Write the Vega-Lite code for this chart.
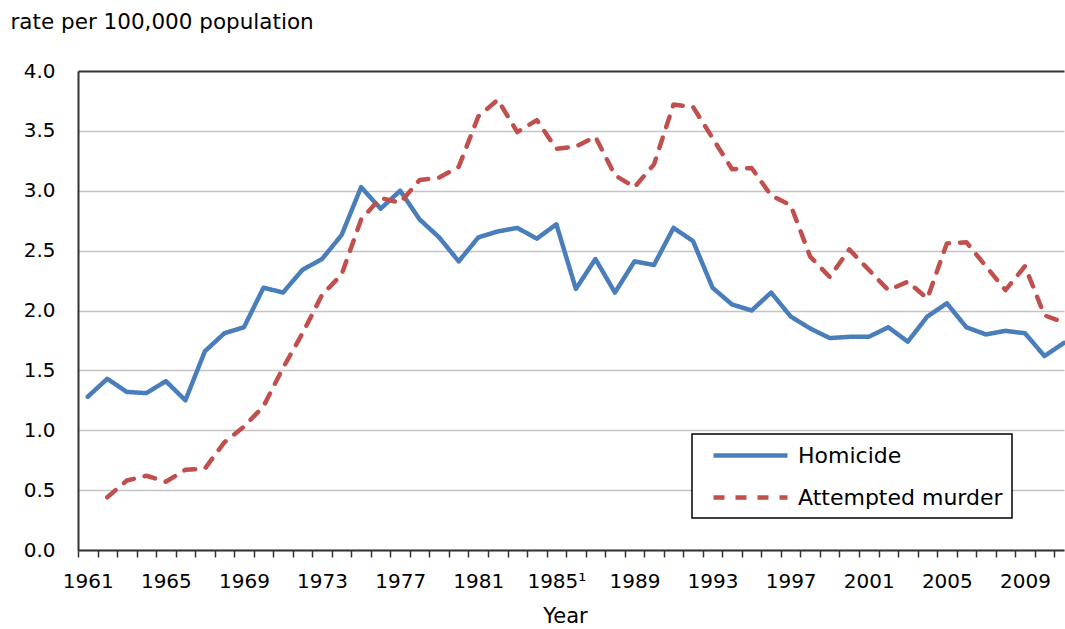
{
  "$schema": "https://vega.github.io/schema/vega-lite/v6.json",
  "width": 986,
  "height": 479,
  "autosize": {"type": "none"},
  "padding": {"left": 78, "top": 71, "right": 1, "bottom": 79},
  "background": "white",
  "config": {
    "font": "DejaVu Sans",
    "view": {"stroke": null},
    "legend": {"strokeWidth": 1.5}
  },
  "data": {
    "values": [
      {"year": 1961, "series": "Homicide", "rate": 1.28},
      {"year": 1962, "series": "Homicide", "rate": 1.43},
      {"year": 1963, "series": "Homicide", "rate": 1.32},
      {"year": 1964, "series": "Homicide", "rate": 1.31},
      {"year": 1965, "series": "Homicide", "rate": 1.41},
      {"year": 1966, "series": "Homicide", "rate": 1.25},
      {"year": 1967, "series": "Homicide", "rate": 1.66},
      {"year": 1968, "series": "Homicide", "rate": 1.81},
      {"year": 1969, "series": "Homicide", "rate": 1.86},
      {"year": 1970, "series": "Homicide", "rate": 2.19},
      {"year": 1971, "series": "Homicide", "rate": 2.15},
      {"year": 1972, "series": "Homicide", "rate": 2.34},
      {"year": 1973, "series": "Homicide", "rate": 2.43},
      {"year": 1974, "series": "Homicide", "rate": 2.63},
      {"year": 1975, "series": "Homicide", "rate": 3.03},
      {"year": 1976, "series": "Homicide", "rate": 2.85},
      {"year": 1977, "series": "Homicide", "rate": 3.00},
      {"year": 1978, "series": "Homicide", "rate": 2.76},
      {"year": 1979, "series": "Homicide", "rate": 2.61},
      {"year": 1980, "series": "Homicide", "rate": 2.41},
      {"year": 1981, "series": "Homicide", "rate": 2.61},
      {"year": 1982, "series": "Homicide", "rate": 2.66},
      {"year": 1983, "series": "Homicide", "rate": 2.69},
      {"year": 1984, "series": "Homicide", "rate": 2.60},
      {"year": 1985, "series": "Homicide", "rate": 2.72},
      {"year": 1986, "series": "Homicide", "rate": 2.18},
      {"year": 1987, "series": "Homicide", "rate": 2.43},
      {"year": 1988, "series": "Homicide", "rate": 2.15},
      {"year": 1989, "series": "Homicide", "rate": 2.41},
      {"year": 1990, "series": "Homicide", "rate": 2.38},
      {"year": 1991, "series": "Homicide", "rate": 2.69},
      {"year": 1992, "series": "Homicide", "rate": 2.58},
      {"year": 1993, "series": "Homicide", "rate": 2.19},
      {"year": 1994, "series": "Homicide", "rate": 2.05},
      {"year": 1995, "series": "Homicide", "rate": 2.00},
      {"year": 1996, "series": "Homicide", "rate": 2.15},
      {"year": 1997, "series": "Homicide", "rate": 1.95},
      {"year": 1998, "series": "Homicide", "rate": 1.85},
      {"year": 1999, "series": "Homicide", "rate": 1.77},
      {"year": 2000, "series": "Homicide", "rate": 1.78},
      {"year": 2001, "series": "Homicide", "rate": 1.78},
      {"year": 2002, "series": "Homicide", "rate": 1.86},
      {"year": 2003, "series": "Homicide", "rate": 1.74},
      {"year": 2004, "series": "Homicide", "rate": 1.95},
      {"year": 2005, "series": "Homicide", "rate": 2.06},
      {"year": 2006, "series": "Homicide", "rate": 1.86},
      {"year": 2007, "series": "Homicide", "rate": 1.80},
      {"year": 2008, "series": "Homicide", "rate": 1.83},
      {"year": 2009, "series": "Homicide", "rate": 1.81},
      {"year": 2010, "series": "Homicide", "rate": 1.62},
      {"year": 2011, "series": "Homicide", "rate": 1.73},
      {"year": 1962, "series": "Attempted murder", "rate": 0.44},
      {"year": 1963, "series": "Attempted murder", "rate": 0.58},
      {"year": 1964, "series": "Attempted murder", "rate": 0.62},
      {"year": 1965, "series": "Attempted murder", "rate": 0.57},
      {"year": 1966, "series": "Attempted murder", "rate": 0.67},
      {"year": 1967, "series": "Attempted murder", "rate": 0.68},
      {"year": 1968, "series": "Attempted murder", "rate": 0.90},
      {"year": 1969, "series": "Attempted murder", "rate": 1.03},
      {"year": 1970, "series": "Attempted murder", "rate": 1.20},
      {"year": 1971, "series": "Attempted murder", "rate": 1.52},
      {"year": 1972, "series": "Attempted murder", "rate": 1.81},
      {"year": 1973, "series": "Attempted murder", "rate": 2.13},
      {"year": 1974, "series": "Attempted murder", "rate": 2.30},
      {"year": 1975, "series": "Attempted murder", "rate": 2.76},
      {"year": 1976, "series": "Attempted murder", "rate": 2.94},
      {"year": 1977, "series": "Attempted murder", "rate": 2.90},
      {"year": 1978, "series": "Attempted murder", "rate": 3.09},
      {"year": 1979, "series": "Attempted murder", "rate": 3.11},
      {"year": 1980, "series": "Attempted murder", "rate": 3.20},
      {"year": 1981, "series": "Attempted murder", "rate": 3.62},
      {"year": 1982, "series": "Attempted murder", "rate": 3.76},
      {"year": 1983, "series": "Attempted murder", "rate": 3.49},
      {"year": 1984, "series": "Attempted murder", "rate": 3.59},
      {"year": 1985, "series": "Attempted murder", "rate": 3.35},
      {"year": 1986, "series": "Attempted murder", "rate": 3.37},
      {"year": 1987, "series": "Attempted murder", "rate": 3.45},
      {"year": 1988, "series": "Attempted murder", "rate": 3.13},
      {"year": 1989, "series": "Attempted murder", "rate": 3.03},
      {"year": 1990, "series": "Attempted murder", "rate": 3.22},
      {"year": 1991, "series": "Attempted murder", "rate": 3.72},
      {"year": 1992, "series": "Attempted murder", "rate": 3.70},
      {"year": 1993, "series": "Attempted murder", "rate": 3.44},
      {"year": 1994, "series": "Attempted murder", "rate": 3.18},
      {"year": 1995, "series": "Attempted murder", "rate": 3.19},
      {"year": 1996, "series": "Attempted murder", "rate": 2.96},
      {"year": 1997, "series": "Attempted murder", "rate": 2.88},
      {"year": 1998, "series": "Attempted murder", "rate": 2.45},
      {"year": 1999, "series": "Attempted murder", "rate": 2.28},
      {"year": 2000, "series": "Attempted murder", "rate": 2.51},
      {"year": 2001, "series": "Attempted murder", "rate": 2.34},
      {"year": 2002, "series": "Attempted murder", "rate": 2.17},
      {"year": 2003, "series": "Attempted murder", "rate": 2.24},
      {"year": 2004, "series": "Attempted murder", "rate": 2.10},
      {"year": 2005, "series": "Attempted murder", "rate": 2.56},
      {"year": 2006, "series": "Attempted murder", "rate": 2.57},
      {"year": 2007, "series": "Attempted murder", "rate": 2.37},
      {"year": 2008, "series": "Attempted murder", "rate": 2.17},
      {"year": 2009, "series": "Attempted murder", "rate": 2.37},
      {"year": 2010, "series": "Attempted murder", "rate": 1.96},
      {"year": 2011, "series": "Attempted murder", "rate": 1.90}
    ]
  },
  "mark": {"type": "line", "strokeWidth": 4.5, "strokeCap": "round", "strokeJoin": "round"},
  "encoding": {
    "x": {
      "field": "year",
      "type": "quantitative",
      "scale": {"domain": [1960.5, 2011], "nice": false, "zero": false},
      "axis": {
        "title": "Year",
        "titleFont": "DejaVu Sans",
        "titleFontSize": 21,
        "titleFontWeight": "normal",
        "titleColor": "#000",
        "titleX": 487,
        "titleY": 72,
        "titleAlign": "center",
        "titleBaseline": "alphabetic",
        "tickCount": 200,
        "tickMinStep": 0.1,
        "values": [1960.5, 1961, 1961.5, 1962.5, 1963.5, 1964.5, 1965, 1965.5, 1966.5, 1967.5, 1968.5, 1969, 1969.5, 1970.5, 1971.5, 1972.5, 1973, 1973.5, 1974.5, 1975.5, 1976.5, 1977, 1977.5, 1978.5, 1979.5, 1980.5, 1981, 1981.5, 1982.5, 1983.5, 1984.5, 1985, 1985.5, 1986.5, 1987.5, 1988.5, 1989, 1989.5, 1990.5, 1991.5, 1992.5, 1993, 1993.5, 1994.5, 1995.5, 1996.5, 1997, 1997.5, 1998.5, 1999.5, 2000.5, 2001, 2001.5, 2002.5, 2003.5, 2004.5, 2005, 2005.5, 2006.5, 2007.5, 2008.5, 2009, 2009.5, 2010.5],
        "labelExpr": "datum.value % 1 != 0 ? '' : (datum.value == 1985 ? '1985\u00b9' : format(datum.value, 'd'))",
        "labelOverlap": false,
        "labelFlush": false,
        "labelBound": false,
        "labelFontSize": 20,
        "labelColor": "#000",
        "labelBaseline": "alphabetic",
        "labelPadding": 30,
        "labelDx": -5,
        "tickSize": 7,
        "tickWidth": 1.5,
        "tickColor": "#333",
        "tickOpacity": {"condition": {"test": "datum.value % 1 == 0", "value": 0}, "value": 1},
        "domainColor": "#333",
        "domainWidth": 2,
        "grid": false
      }
    },
    "y": {
      "field": "rate",
      "type": "quantitative",
      "scale": {"domain": [0, 4], "nice": false},
      "axis": {
        "title": "rate per 100,000 population",
        "titleFont": "DejaVu Sans",
        "titleFontSize": 21.5,
        "titleFontWeight": "normal",
        "titleColor": "#000",
        "titleAngle": 0,
        "titleAlign": "left",
        "titleBaseline": "alphabetic",
        "titleX": -68,
        "titleY": -43,
        "values": [0, 0.5, 1, 1.5, 2, 2.5, 3, 3.5, 4],
        "format": ".1f",
        "labelFontSize": 20,
        "labelColor": "#000",
        "labelPadding": 23,
        "ticks": false,
        "domainColor": "#333",
        "domainWidth": 2,
        "grid": true,
        "gridColor": {"condition": {"test": "datum.value == 4", "value": "#333"}, "value": "#c4c4c4"},
        "gridWidth": {"condition": {"test": "datum.value == 4", "value": 2}, "value": 1.5}
      }
    },
    "color": {
      "field": "series",
      "type": "nominal",
      "scale": {"domain": ["Homicide", "Attempted murder"], "range": ["#4a7ebb", "#c0504d"]},
      "legend": {
        "title": null,
        "orient": "none",
        "legendX": 614,
        "legendY": 363,
        "direction": "vertical",
        "strokeColor": "#000",
        "fillColor": "#fff",
        "padding": 9,
        "rowPadding": 18,
        "symbolType": "M0,0H7.4",
        "symbolSize": 400,
        "symbolStrokeWidth": 4.5,
        "labelFontSize": 22,
        "labelColor": "#000",
        "labelOffset": 72,
        "labelLimit": 400
      }
    },
    "strokeDash": {
      "field": "series",
      "type": "nominal",
      "scale": {"domain": ["Homicide", "Attempted murder"], "range": [[1, 0], [11, 11]]},
      "legend": null
    }
  }
}
